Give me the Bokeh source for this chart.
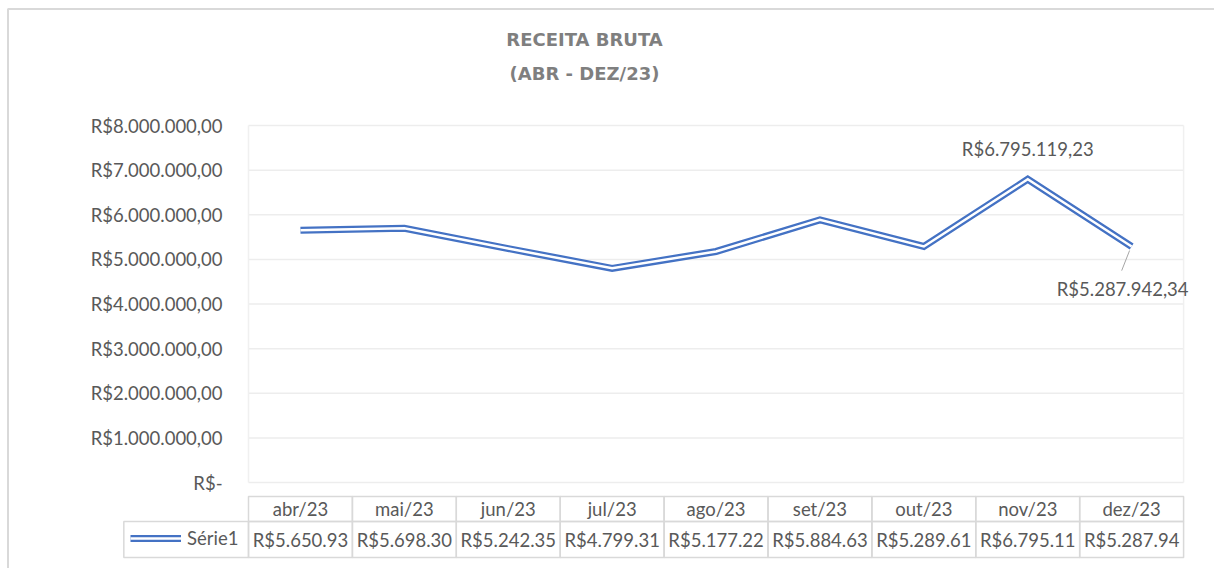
from bokeh.plotting import figure
from bokeh.models import Range1d, ColumnDataSource, Legend, LegendItem
from bokeh.core.properties import value
from bokeh.embed import file_html
from bokeh.resources import INLINE

# ---------------- data ----------------
months = ["abr/23", "mai/23", "jun/23", "jul/23", "ago/23",
          "set/23", "out/23", "nov/23", "dez/23"]
revenue = [5650930, 5698300, 5242350, 4799310, 5177220,
           5884630, 5289610, 6795119.23, 5287942.34]
table_values = ["R$5.650.93", "R$5.698.30", "R$5.242.35", "R$4.799.31", "R$5.177.22",
                "R$5.884.63", "R$5.289.61", "R$6.795.11", "R$5.287.94"]
y_ticks = [0, 1000000, 2000000, 3000000, 4000000, 5000000, 6000000, 7000000, 8000000]
y_tick_labels = ["R$-", "R$1.000.000,00", "R$2.000.000,00", "R$3.000.000,00",
                 "R$4.000.000,00", "R$5.000.000,00", "R$6.000.000,00",
                 "R$7.000.000,00", "R$8.000.000,00"]
label_months = ["nov/23", "dez/23"]
label_texts = ["R$6.795.119,23", "R$5.287.942,34"]
title_lines = ["RECEITA BRUTA", "(ABR - DEZ/23)"]
series_name = "Série1"

# ---------------- style / layout ----------------
FONT = "Lato"
TITLE_FONT = "DejaVu Sans"
TEXT = "#595959"
BLUE = "#4472C4"
CELL = "#D9D9D9"
FS = "18.5px"

W, H = 1214, 568
PLOT_LEFT = 248.0      # page x of category 0 edge
COL_W = 103.9          # px per category
ZERO_Y = 482.0         # page y of value 0
PX_PER_M = 44.625      # px per 1,000,000

n = len(months)
xs = [i + 0.5 for i in range(n)]

x_start = -PLOT_LEFT / COL_W
x_end = (W - PLOT_LEFT) / COL_W
y_start = -(H - ZERO_Y) / PX_PER_M * 1e6
y_end = ZERO_Y / PX_PER_M * 1e6

p = figure(output_backend="svg", toolbar_location=None, tools="",
           width=W, height=H, min_border=0,
           x_axis_location=None, y_axis_location=None,
           x_range=Range1d(x_start, x_end), y_range=Range1d(y_start, y_end))
p.outline_line_color = None
p.background_fill_color = "white"
p.border_fill_color = "white"
p.grid.visible = False
p.extra_x_ranges = {"px": Range1d(0, W)}
p.extra_y_ranges = {"px": Range1d(H, 0)}

# chart-area border (top / left visible)
p.quad(left=[7.5], right=[W + 40], top=[8.5], bottom=[H + 40],
       x_range_name="px", y_range_name="px",
       fill_color=None, line_color=CELL, line_width=2)

# titles
p.text(x=[584, 584], y=[39, 73], text=title_lines,
       x_range_name="px", y_range_name="px",
       text_font=value(TITLE_FONT), text_font_style="bold", text_font_size="18px",
       text_color="#7F7F7F", text_align="center", text_baseline="middle")

# gridlines + plot-area edges
p.segment(x0=[0] * len(y_ticks), x1=[n] * len(y_ticks), y0=y_ticks, y1=y_ticks,
          line_color="#EDEDED", line_width=1.5)
p.segment(x0=[0, n], x1=[0, n], y0=[y_ticks[0]] * 2, y1=[y_ticks[-1]] * 2,
          line_color="#F0F0F0", line_width=1.5)

# y tick labels
p.text(x=[0] * len(y_ticks), y=y_ticks, text=y_tick_labels, x_offset=-26,
       text_font=value(FONT), text_font_size=FS, text_color=TEXT,
       text_align="right", text_baseline="middle")

# the series (double line)
src = ColumnDataSource(dict(x=xs, y=revenue))
r_outer = p.line("x", "y", source=src, line_color=BLUE, line_width=7, line_join="miter")
r_inner = p.line("x", "y", source=src, line_color="white", line_width=2.5, line_join="miter")

# data labels
lab_idx = [months.index(m) for m in label_months]
lab_src = ColumnDataSource(dict(
    x=[xs[i] for i in lab_idx],
    y=[revenue[i] for i in lab_idx],
    text=label_texts,
    xo=[0, -9],
    yo=[-30, 42],
))
p.text(x="x", y="y", text="text", x_offset="xo", y_offset="yo", source=lab_src,
       text_font=value(FONT), text_font_size=FS, text_color=TEXT,
       text_align="center", text_baseline="middle")
d = lab_idx[1]
p.segment(x0=[xs[d] - 0.02], y0=[revenue[d] - 90000],
          x1=[xs[d] - 0.096], y1=[revenue[d] - 540000],
          line_color="#A6A6A6", line_width=1)

# ---------------- data table ----------------
HDR_TOP, ROW_MID, ROW_BOT = 496, 521, 557
p.quad(left=list(range(n)), right=[i + 1 for i in range(n)],
       top=[HDR_TOP] * n, bottom=[ROW_MID] * n, y_range_name="px",
       fill_color=None, line_color=CELL, line_width=1.5)
p.quad(left=[-1.2] + list(range(n)), right=[0] + [i + 1 for i in range(n)],
       top=[ROW_MID] * (n + 1), bottom=[ROW_BOT] * (n + 1), y_range_name="px",
       fill_color=None, line_color=CELL, line_width=1.5)
p.text(x=xs, y=[(HDR_TOP + ROW_MID) / 2] * n, text=months, y_range_name="px",
       text_font=value(FONT), text_font_size=FS, text_color=TEXT,
       text_align="center", text_baseline="middle")
p.text(x=xs, y=[(ROW_MID + ROW_BOT) / 2 + 0.5] * n, text=table_values, y_range_name="px",
       text_font=value(FONT), text_font_size=FS, text_color=TEXT,
       text_align="center", text_baseline="middle")

legend = Legend(items=[LegendItem(label=series_name, renderers=[r_outer, r_inner])],
                location=(130, H - 549), glyph_width=51, glyph_height=20,
                label_height=20, label_standoff=6, padding=0, margin=0, spacing=0,
                border_line_color=None, background_fill_alpha=0,
                label_text_font=FONT, label_text_font_size=FS,
                label_text_color=TEXT)
p.add_layout(legend)

open("out.html", "w").write(file_html(p, INLINE))
